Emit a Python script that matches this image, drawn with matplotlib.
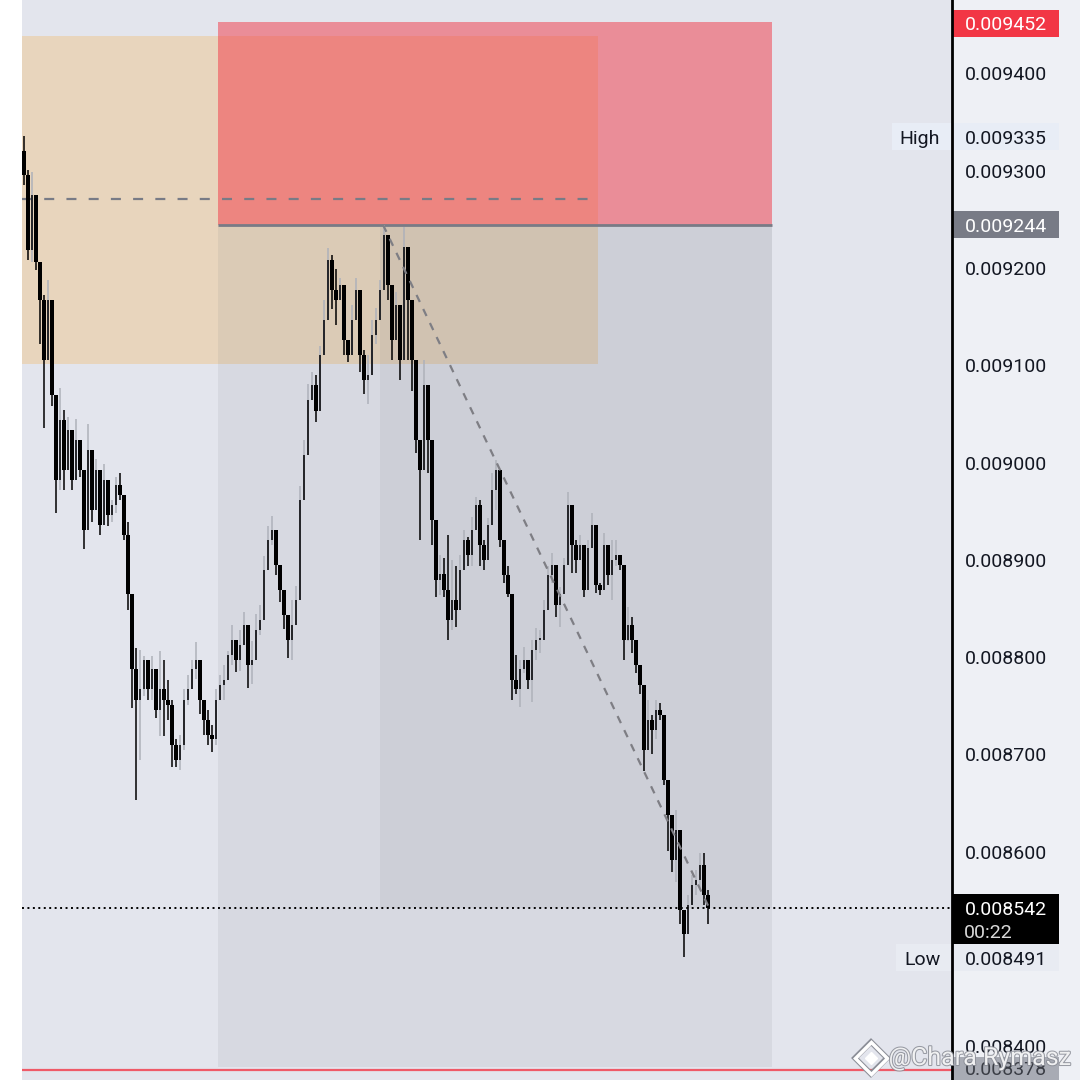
import numpy as np
import matplotlib
matplotlib.use("Agg")
import matplotlib.pyplot as plt
from matplotlib.patches import Rectangle
from matplotlib.lines import Line2D
from matplotlib import patheffects as pe

# prices in millionths (9295 -> 0.009295)
first_open = 9320
close = [9295, 9218, 9275, 9206, 9167, 9105, 9167, 9069, 8982, 9043,
         8992, 9033, 8982, 9023, 8992, 8930, 9013, 8951, 8992, 8935,
         8982, 8946, 8956, 8977, 8966, 8925, 8864, 8787, 8756, 8767,
         8797, 8767, 8787, 8745, 8767, 8756, 8750, 8709, 8694, 8709,
         8756, 8767, 8787, 8797, 8756, 8735, 8720, 8715, 8756, 8771,
         8776, 8802, 8817, 8797, 8812, 8833, 8792, 8797, 8828, 8838,
         8889, 8920, 8930, 8894, 8869, 8843, 8817, 8833, 8858, 8961,
         9007, 9064, 9079, 9053, 9110, 9146, 9208, 9177, 9167, 9182,
         9126, 9110, 9146, 9177, 9110, 9084, 9090, 9131, 9146, 9177,
         9233, 9182, 9126, 9162, 9105, 9221, 9167, 9105, 9023, 8992,
         9079, 9023, 8941, 8879, 8885, 8869, 8838, 8858, 8848, 8889,
         8920, 8905, 8930, 8956, 8915, 8899, 8935, 8971, 8992, 8920,
         8884, 8864, 8776, 8767, 8787, 8797, 8776, 8807, 8817, 8817,
         8848, 8884, 8894, 8853, 8864, 8894, 8956, 8915, 8899, 8915,
         8869, 8912, 8935, 8874, 8869, 8915, 8884, 8899, 8905, 8894,
         8817, 8833, 8817, 8792, 8771, 8704, 8735, 8725, 8745, 8740,
         8673, 8637, 8591, 8622, 8540, 8515, 8545, 8565, 8571, 8586,
         8555, 8542]
high = [9335, 9300, 9298, 9233, 9192, 9172, 9187, 9100, 9033, 9076,
        9054, 9046, 9017, 9044, 9017, 8971, 9039, 8985, 9003, 8976,
        8998, 8971, 8961, 8985, 8989, 8948, 8939, 8848, 8809, 8807,
        8801, 8797, 8801, 8767, 8806, 8797, 8776, 8756, 8715, 8720,
        8767, 8781, 8797, 8815, 8776, 8756, 8745, 8730, 8767, 8781,
        8792, 8806, 8833, 8817, 8828, 8846, 8817, 8816, 8844, 8853,
        8904, 8934, 8945, 8911, 8884, 8858, 8838, 8858, 8873, 8975,
        9023, 9080, 9093, 9090, 9119, 9167, 9220, 9213, 9199, 9189,
        9146, 9120, 9162, 9189, 9136, 9115, 9110, 9146, 9158, 9187,
        9244, 9201, 9156, 9175, 9126, 9242, 9195, 9126, 9044, 9017,
        9105, 9051, 8961, 8923, 8905, 8902, 8925, 8899, 8893, 8905,
        8930, 8923, 8944, 8964, 8961, 8920, 8943, 8989, 9002, 8930,
        8903, 8893, 8838, 8802, 8797, 8810, 8797, 8817, 8830, 8828,
        8858, 8893, 8907, 8869, 8872, 8902, 8969, 8938, 8920, 8925,
        8886, 8920, 8948, 8886, 8876, 8927, 8905, 8920, 8920, 8899,
        8858, 8851, 8841, 8804, 8787, 8756, 8756, 8740, 8756, 8752,
        8678, 8653, 8619, 8643, 8555, 8534, 8555, 8576, 8581, 8598,
        8598, 8560]
low = [9285, 9208, 9206, 9198, 9121, 9035, 9108, 9058, 8948, 8971,
       8971, 9021, 8971, 9007, 8985, 8911, 8992, 8939, 8966, 8925,
       8957, 8934, 8939, 8948, 8961, 8920, 8848, 8747, 8653, 8694,
       8760, 8756, 8756, 8737, 8719, 8719, 8735, 8687, 8687, 8684,
       8704, 8750, 8767, 8777, 8741, 8720, 8709, 8702, 8709, 8756,
       8756, 8781, 8792, 8784, 8785, 8812, 8768, 8772, 8817, 8822,
       8879, 8904, 8915, 8884, 8856, 8829, 8799, 8797, 8844, 8904,
       8994, 9021, 9064, 9041, 9093, 9112, 9167, 9157, 9141, 9167,
       9110, 9103, 9126, 9151, 9093, 9070, 9060, 9105, 9121, 9146,
       9195, 9167, 9105, 9146, 9084, 9177, 9105, 9073, 9009, 8920,
       9053, 8989, 8915, 8861, 8863, 8861, 8817, 8828, 8831, 8863,
       8905, 8893, 8893, 8933, 8893, 8889, 8928, 8948, 8951, 8913,
       8876, 8861, 8756, 8762, 8748, 8783, 8767, 8753, 8797, 8804,
       8831, 8874, 8876, 8841, 8831, 8884, 8927, 8886, 8886, 8899,
       8861, 8899, 8915, 8866, 8863, 8896, 8874, 8858, 8893, 8889,
       8797, 8816, 8804, 8783, 8762, 8683, 8704, 8700, 8715, 8735,
       8668, 8600, 8579, 8568, 8525, 8491, 8523, 8545, 8555, 8560,
       8545, 8525]

ticks = [9400, 9300, 9200, 9100, 9000, 8900, 8800, 8700, 8600, 8400]
stop_price = 9452
entry_price = 9244
last_price = 8542
day_high = 9335
day_low = 8491
bottom_price = 8378
zone_top, zone_bottom = 9438, 9101
mid_level = 9270

close = np.array(close, dtype=float)
high = np.array(high, dtype=float)
low = np.array(low, dtype=float)
opn = np.concatenate([[first_open], close[:-1]])
high = np.maximum(high, np.maximum(opn, close))
low = np.minimum(low, np.minimum(opn, close))
x = np.arange(len(close))
up = close >= opn

fig = plt.figure(figsize=(10.8, 10.8), dpi=100, facecolor="white")
fig.add_artist(Rectangle((952 / 1080, 0), 128 / 1080, 1, transform=fig.transFigure,
                         color="#eef0f5", zorder=0))
ax = fig.add_axes([22 / 1080, 0, 930 / 1080, 1])
ax.set_facecolor("#e3e5ed")
ax.set_xlim(-0.5, 232)
ax.set_ylim(8365, 9475)
ax.set_xticks([])
ax.set_yticks([])
for s in ax.spines.values():
    s.set_visible(False)

# zones
ax.add_patch(Rectangle((-0.5, zone_bottom), 144, zone_top - zone_bottom,
                       color="#ff9800", alpha=0.2, lw=0, zorder=1))
ax.add_patch(Rectangle((48.5, bottom_price), 138.5, entry_price - bottom_price,
                       color="#787b86", alpha=0.11, lw=0, zorder=1))
ax.add_patch(Rectangle((89, last_price), 98, entry_price - last_price,
                       color="#787b86", alpha=0.1, lw=0, zorder=1))
ax.add_patch(Rectangle((48.5, entry_price), 138.5, stop_price - entry_price,
                       color="#f23645", alpha=0.5, lw=0, zorder=1))
ax.hlines(entry_price, 48.5, 187, color="#787b86", lw=2, zorder=2)
ax.plot([-0.5, 143.5], [mid_level, mid_level], color="#787b86", lw=1.6,
        dashes=(4.5, 5.5), zorder=2)
ax.plot([89.75, 171.5], [entry_price, 8540], color="#7e7e84", lw=1.6,
        dashes=(3.5, 3.5), zorder=4)
ax.axhline(last_price, color="black", lw=1.4, linestyle=(0, (1, 1.8)), zorder=4)
ax.axhline(bottom_price - 3, color="#ef5a68", lw=1.6, zorder=4)

# candles
body_bot = np.minimum(opn, close)
body_h = np.maximum(np.abs(close - opn), 2.0)
ax.vlines(x[up], low[up], high[up], colors="#aeb1ba", lw=1.1, zorder=3)
ax.vlines(x[~up], low[~up], high[~up], colors="black", lw=1.1, zorder=3)
ax.bar(x[up], body_h[up], bottom=body_bot[up], width=0.4, color="#26272b", lw=0, zorder=3)
ax.bar(x[~up], body_h[~up], bottom=body_bot[~up], width=0.8, color="black", lw=0, zorder=3)

# price scale
trans = ax.get_yaxis_transform()
dy = -2.5  # nudge text down to sit centred on its level


def ax_x(px):
    return (px - 22) / 930


font = "Roboto"
for v in ticks:
    ax.text(ax_x(1006), v + dy, f"{v / 1e6:.6f}", transform=trans, ha="center", va="center",
            fontsize=14, family=font, color="#131722", clip_on=False, zorder=6)


def tag(price, color, txt_color, height=27.7, left=952, right=1059, center=None):
    yc = price if center is None else center
    ax.add_patch(Rectangle((ax_x(left), yc - height / 2), (right - left) / 930, height,
                           transform=trans, color=color, lw=0, clip_on=False, zorder=7))
    ax.text(ax_x(1006), price + dy, f"{price / 1e6:.6f}", transform=trans, ha="center",
            va="center", fontsize=14, family=font, color=txt_color, clip_on=False, zorder=8)


tag(stop_price, "#f23645", "white", center=stop_price - 1.5)
tag(day_high, "#e8edf6", "#131722", left=892)
ax.text(ax_x(920), day_high + dy, "High", transform=trans, ha="center", va="center",
        fontsize=14, family=font, color="#131722", clip_on=False, zorder=8)
tag(entry_price, "#787b86", "white")
tag(day_low, "#e8ebf2", "#131722", left=896)
ax.text(ax_x(922), day_low + dy, "Low", transform=trans, ha="center", va="center",
        fontsize=14, family=font, color="#131722", clip_on=False, zorder=8)
tag(last_price, "black", "white", height=52, center=last_price - 11.5)
ax.text(ax_x(988), last_price - 23.5 + dy, "00:22", transform=trans, ha="center",
        va="center", fontsize=14, family=font, color="#d8d8d8", clip_on=False, zorder=8)
tag(bottom_price, "#a8abb4", "#3a3d45", center=bottom_price - 3)

# axis border
fig.add_artist(Line2D([952 / 1080, 952 / 1080], [0, 1], transform=fig.transFigure,
                      color="black", lw=2, zorder=9))

# watermark
fig.text(980 / 1080, 1 - 1058 / 1080, "@Chara Rymasz", ha="center", va="center",
         fontsize=18, family=font, color="white", alpha=0.85, zorder=10,
         path_effects=[pe.withStroke(linewidth=1.5, foreground="#8a8d96")])
fig.add_artist(Line2D([871 / 1080], [1 - 1058 / 1080], marker="D", markersize=16,
                      markerfacecolor="none", markeredgecolor="white", markeredgewidth=2.5,
                      transform=fig.transFigure, zorder=10,
                      path_effects=[pe.withStroke(linewidth=4, foreground="#8a8d96")]))
fig.add_artist(Line2D([871 / 1080], [1 - 1058 / 1080], marker="D", markersize=6,
                      color="white", transform=fig.transFigure, zorder=10))

fig.savefig("out.png", dpi=100, facecolor=fig.get_facecolor())
